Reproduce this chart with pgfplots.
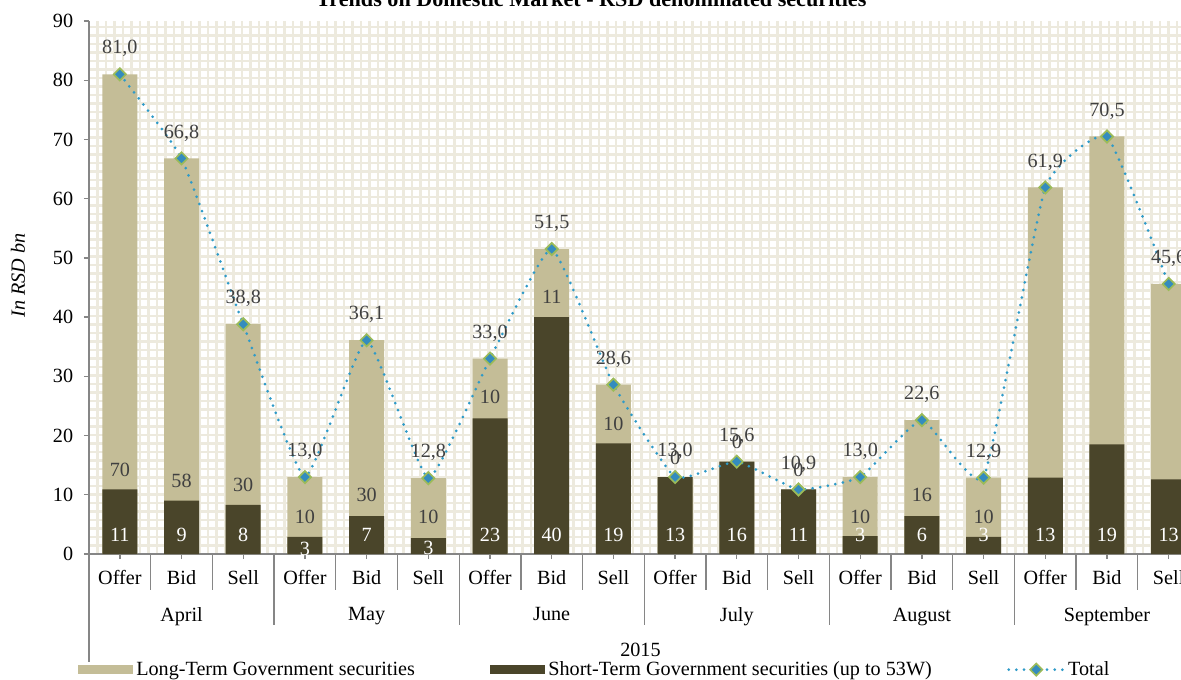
\documentclass[border=0pt]{standalone}
\usepackage{fontspec}
\setmainfont{Liberation Serif}
\usepackage{pgfplots}
\pgfplotsset{compat=1.18}
\usepackage{pgfplotstable}
\definecolor{ltbeige}{RGB}{196,189,151}
\definecolor{stdark}{RGB}{74,69,42}
\definecolor{totblue}{RGB}{46,154,200}
\definecolor{mkblue}{RGB}{52,140,190}
\definecolor{totgreen}{RGB}{155,187,89}
\definecolor{axgray}{RGB}{134,134,134}
\definecolor{labgray}{RGB}{64,64,64}
\definecolor{bggrid}{RGB}{237,234,222}

\pgfplotsset{
  longleg/.style={legend image code/.code={\fill[ltbeige] (0pt,-2.7pt) rectangle (33pt,2.7pt);}},
  shortleg/.style={legend image code/.code={\fill[stdark] (0pt,-2.7pt) rectangle (33pt,2.7pt);}},
  totleg/.style={legend image code/.code={\draw[mark repeat=2, mark phase=2, ##1] plot coordinates {(0pt,0pt) (16.5pt,0pt) (33pt,0pt)};}},
}

% totals and short-term part, in RSD bn
\pgfplotstableread{
x short total tlab
0 10.9 81.0 81,0
1 9.0 66.8 66,8
2 8.3 38.8 38,8
3 2.9 13.0 13,0
4 6.4 36.1 36,1
5 2.7 12.8 12,8
6 22.9 33.0 33,0
7 40.0 51.5 51,5
8 18.7 28.6 28,6
9 13.0 13.0 13,0
10 15.6 15.6 15,6
11 10.9 10.9 10,9
12 3.0 13.0 13,0
13 6.4 22.6 22,6
14 2.9 12.9 12,9
15 12.9 61.9 61,9
16 18.5 70.5 70,5
17 12.6 45.6 45,6
}\datatable

% rounded labels of the short-term part
\pgfplotstableread{
x y lab
0 3.2 11
1 3.2 9
2 3.2 8
3 0.9 3
4 3.2 7
5 1.0 3
6 3.2 23
7 3.2 40
8 3.2 19
9 3.2 13
10 3.2 16
11 3.2 11
12 3.2 3
13 3.2 6
14 3.2 3
15 3.2 13
16 3.2 19
17 3.2 13
}\darklabels

% rounded labels of the long-term part
\pgfplotstableread{
x y lab
0 14.2 70
1 12.3 58
2 11.7 30
3 6.3 10
4 10.0 30
5 6.2 10
6 26.5 10
7 43.4 11
8 22.0 10
9 16.3 0
10 18.9 0
11 14.2 0
12 6.3 10
13 9.9 16
14 6.3 10
}\longlabels

\begin{document}
\begin{tikzpicture}[font=\fontsize{12.1}{14.4}\selectfont]
\begin{scope}
  \clip (0,0) rectangle (655.2pt,319.8pt);
  \draw[bggrid, line width=1.4pt, step=5.1pt] (0,0) grid (656pt,320pt);
\end{scope}
\begin{axis}[
  at={(0,0)}, anchor=south west,
  scale only axis, width=655.2pt, height=319.8pt,
  xmin=-0.5, xmax=17.2, ymin=0, ymax=90,
  clip=false,
  axis x line*=bottom, axis y line*=left,
  axis line style={axgray, line width=0.8pt, -},
  ytick={0,10,...,90},
  xtick={0,...,17},
  xticklabels={Offer,Bid,Sell,Offer,Bid,Sell,Offer,Bid,Sell,Offer,Bid,Sell,Offer,Bid,Sell,Offer,Bid,Sell},
  tick align=outside,
  major tick length=3pt,
  tick style={axgray, line width=0.8pt},
  /pgf/number format/assume math mode=true,
  yticklabel style={xshift=-3pt},
  xticklabel style={yshift=-3.5pt},
  extra x ticks={1,4,7,10,13,16},
  extra x tick labels={April,May,June,July,August,September},
  extra x tick style={major tick length=0pt, tick label style={yshift=-25.2pt}},
  xlabel={2015},
  xlabel style={at={(axis description cs:0.505,-0.18)}, anchor=center},
  ylabel={\textit{In RSD bn}},
  ylabel style={at={(axis description cs:-0.065,0.523)}, anchor=center},
  title={\textbf{Trends on Domestic Market - RSD denominated securities}},
  every axis title shift=0pt,
  title style={at={(axis description cs:0.46,1.028)}, anchor=base,
    font=\fontsize{13.3}{15}\selectfont},
  legend style={at={(axis description cs:-0.0101,-0.217)}, anchor=west,
    draw=none, fill=none, inner sep=0pt, legend columns=3,
    nodes={inner sep=1.8pt},
    /tikz/every even column/.append style={column sep=43.5pt}},
  legend cell align=left,
]
\addplot[ybar, bar width=21pt, bar shift=0pt, fill=ltbeige, draw=none, longleg]
  table[x=x, y=total] \datatable;
\addlegendentry{Long-Term Government securities}
\addplot[ybar, bar width=21pt, bar shift=0pt, fill=stdark, draw=none, shortleg]
  table[x=x, y=short] \datatable;
\addlegendentry{Short-Term Government securities (up to 53W)}
\addplot[totblue, smooth, tension=0.25, line width=1.8pt, line cap=round,
  dash pattern=on 0pt off 4.6pt,
  mark=square*, mark size=2.6pt,
  mark options={rotate=45, solid, fill=mkblue, draw=totgreen, line width=1pt},
  nodes near coords, point meta=explicit symbolic,
  every node near coord/.append style={labgray, anchor=center, yshift=15.3pt},
  totleg]
  table[x=x, y=total, meta=tlab] \datatable;
\addlegendentry{Total}
\addplot[draw=none, mark=none, forget plot, nodes near coords, point meta=explicit symbolic,
  every node near coord/.append style={white, anchor=center}]
  table[x=x, y=y, meta=lab] \darklabels;
\addplot[draw=none, mark=none, forget plot, nodes near coords, point meta=explicit symbolic,
  every node near coord/.append style={labgray, anchor=center}]
  table[x=x, y=y, meta=lab] \longlabels;
\draw[axgray, line width=0.8pt] (axis cs:-0.5,0) -- ++(0pt,-64.8pt);
\pgfplotsinvokeforeach{0.5,1.5,3.5,4.5,6.5,7.5,9.5,10.5,12.5,13.5,15.5,16.5}{
  \draw[axgray, line width=0.8pt] (axis cs:#1,0) -- ++(0pt,-21.6pt);}
\pgfplotsinvokeforeach{2.5,5.5,8.5,11.5,14.5}{
  \draw[axgray, line width=0.8pt] (axis cs:#1,0) -- ++(0pt,-42.6pt);}
\end{axis}
\pgfresetboundingbox
\path[use as bounding box] (-53.4pt,-75pt) rectangle (655.2pt,332.4pt);
\end{tikzpicture}
\end{document}
